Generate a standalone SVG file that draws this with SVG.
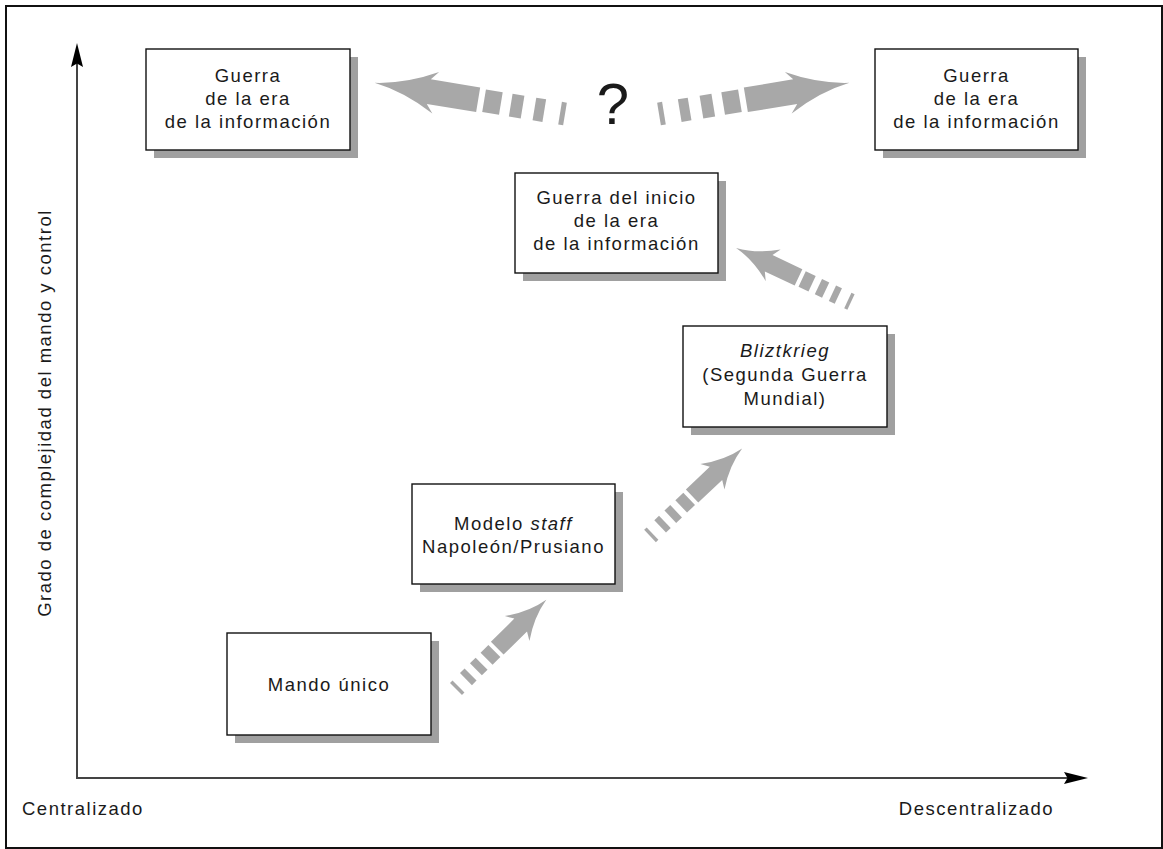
<svg xmlns="http://www.w3.org/2000/svg" xmlns:xlink="http://www.w3.org/1999/xlink" width="1163" height="849" viewBox="0 0 1163 849">
  <style>
    .frame { fill: #ffffff; stroke: #111111; stroke-width: 2; }
    .axis { stroke: #444444; stroke-width: 2; fill: none; }
    .axis-head { fill: #000000; }
    .shadow { fill: #a0a0a0; }
    .box { fill: #ffffff; stroke: #111111; stroke-width: 1.4; }
    .label { font-family: "Liberation Sans", Arial, sans-serif; font-size: 18.5px; letter-spacing: 1.5px; fill: #1a1a1a; text-anchor: middle; }
    .axis-label { font-family: "Liberation Sans", Arial, sans-serif; font-size: 18.5px; letter-spacing: 1.5px; fill: #1a1a1a; }
    .it { font-style: italic; }
    .flow { fill: #a8a8a8; }
    .question { font-family: "Liberation Sans", Arial, sans-serif; font-size: 58px; fill: #1a1a1a; text-anchor: middle; }
  </style>
  <defs>
    <!-- broad progression arrow: dashed tail, shaft and swept head, pointing along +x from the origin -->
    <g id="bigArrow" class="flow">
      <rect x="0" y="-11.5" width="5" height="23"/>
      <rect x="21" y="-11.5" width="10" height="23"/>
      <rect x="43" y="-11.5" width="12" height="23"/>
      <rect x="65" y="-11.5" width="17" height="23"/>
      <path d="M88,-12.5 L138,-12.5 L131,-21 Q162,-4 193,0 Q162,4 131,21 L138,12.5 L88,12.5 Z"/>
    </g>
    <!-- smaller version used for the diagonal steps -->
    <g id="smallArrow" class="flow">
      <rect x="0" y="-8.5" width="3.5" height="17"/>
      <rect x="14" y="-8.5" width="6.5" height="17"/>
      <rect x="28" y="-8.5" width="8" height="17"/>
      <rect x="43" y="-8.5" width="11" height="17"/>
      <path d="M58,-9 L91,-9 L86,-17.5 Q106,-3.5 127,0 Q106,3.5 86,17.5 L91,9 L58,9 Z"/>
    </g>
  </defs>

  <rect class="frame" x="6" y="6" width="1156" height="842"/>

  <!-- axes -->
  <g id="axes">
    <line class="axis" x1="77" y1="779" x2="77" y2="60"/>
    <path class="axis-head" d="M77,43 L83,67 L77,63.5 L71,67 Z"/>
    <line class="axis" x1="76" y1="778" x2="1072" y2="778"/>
    <path class="axis-head" d="M1088,778 L1064,784 L1067.5,778 L1064,772 Z"/>
    <text class="axis-label" transform="translate(51,413) rotate(-90)" text-anchor="middle">Grado de complejidad del mando y control</text>
    <text class="axis-label" x="22" y="815">Centralizado</text>
    <text class="axis-label" x="1054" y="815" text-anchor="end">Descentralizado</text>
  </g>

  <!-- connectors -->
  <g id="connectors">
    <use xlink:href="#smallArrow" transform="translate(456,689) rotate(-44.7)"/>
    <use xlink:href="#smallArrow" transform="translate(650,536) rotate(-43.5)"/>
    <use xlink:href="#smallArrow" transform="translate(851,302) rotate(205.2)"/>
    <use xlink:href="#bigArrow" transform="translate(565,114) rotate(189.3)"/>
    <use xlink:href="#bigArrow" transform="translate(659,114) rotate(-9.3)"/>
    <text class="question" x="613" y="124">?</text>
  </g>

  <!-- nodes -->
  <g id="node-info-left">
    <rect class="shadow" x="154" y="57" width="204" height="101"/>
    <rect class="box" x="146" y="49" width="204" height="101"/>
    <text class="label" x="248" y="82">Guerra</text>
    <text class="label" x="248" y="105">de la era</text>
    <text class="label" x="248" y="128">de la información</text>
  </g>

  <g id="node-info-right">
    <rect class="shadow" x="883" y="57" width="203" height="101"/>
    <rect class="box" x="875" y="49" width="203" height="101"/>
    <text class="label" x="976.5" y="82">Guerra</text>
    <text class="label" x="976.5" y="105">de la era</text>
    <text class="label" x="976.5" y="128">de la información</text>
  </g>

  <g id="node-early-info">
    <rect class="shadow" x="523" y="181" width="203" height="100"/>
    <rect class="box" x="515" y="173" width="203" height="100"/>
    <text class="label" x="616.5" y="204">Guerra del inicio</text>
    <text class="label" x="616.5" y="227">de la era</text>
    <text class="label" x="616.5" y="250">de la información</text>
  </g>

  <g id="node-blitzkrieg">
    <rect class="shadow" x="691" y="334" width="204" height="101"/>
    <rect class="box" x="683" y="326" width="204" height="101"/>
    <text class="label it" x="785" y="357">Bliztkrieg</text>
    <text class="label" x="785" y="381">(Segunda Guerra</text>
    <text class="label" x="785" y="405">Mundial)</text>
  </g>

  <g id="node-staff">
    <rect class="shadow" x="420" y="492" width="203" height="100"/>
    <rect class="box" x="412" y="484" width="203" height="100"/>
    <text class="label" x="513.5" y="530">Modelo <tspan class="it">staff</tspan></text>
    <text class="label" x="513.5" y="553">Napoleón/Prusiano</text>
  </g>

  <g id="node-single">
    <rect class="shadow" x="235" y="641" width="204" height="102"/>
    <rect class="box" x="227" y="633" width="204" height="102"/>
    <text class="label" x="329" y="691">Mando único</text>
  </g>
</svg>
